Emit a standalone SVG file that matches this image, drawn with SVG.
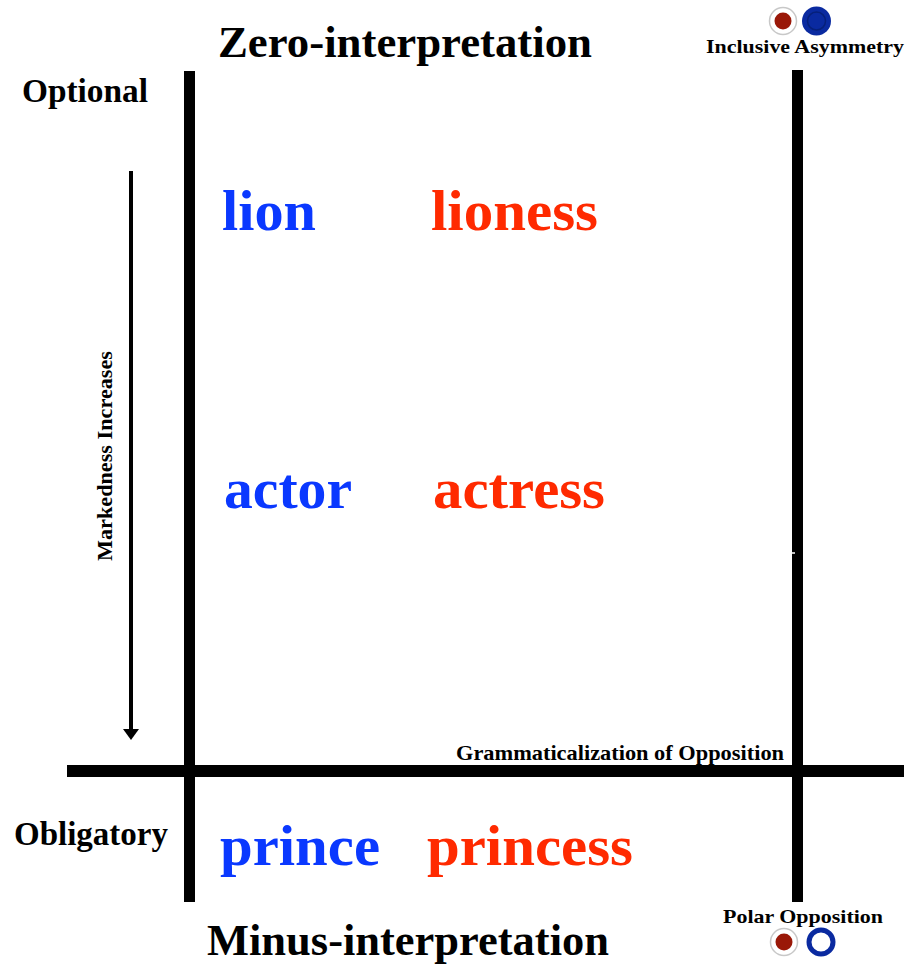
<svg xmlns="http://www.w3.org/2000/svg" width="909" height="966" viewBox="0 0 909 966">
<style>
text{font-family:"Liberation Serif","Times New Roman",serif;font-weight:bold}
.title{font-size:45px;fill:#000}
.side{font-size:33px;fill:#000}
.small{font-size:22px;fill:#000}
.big{font-size:58px}
.blue{fill:#0a38ff}
.red{fill:#ff2a00}
.axis{stroke:#000;fill:none}
</style>
<defs>
<marker id="ah" markerWidth="20" markerHeight="18" refX="0" refY="9" orient="auto" markerUnits="userSpaceOnUse">
<path d="M0,1 L11,9 L0,17 Z" fill="#000"/>
</marker>
</defs>
<rect width="909" height="966" fill="#fff"/>
<g id="connectors">
<line class="axis" x1="189.5" y1="71" x2="189.5" y2="902" stroke-width="11"/>
<line class="axis" x1="797.5" y1="70" x2="797.5" y2="902" stroke-width="11"/>
<line class="axis" x1="67" y1="771" x2="904" y2="771" stroke-width="12" stroke-linecap="butt"/>
<line x1="792" y1="553" x2="795" y2="553" stroke="#fff" stroke-width="1.5"/>
<line class="axis" x1="131" y1="171" x2="131" y2="729" stroke-width="4" marker-end="url(#ah)"/>
</g>
<g id="zero"><text class="title" x="218" y="57" textLength="374" lengthAdjust="spacingAndGlyphs">Zero-interpretation</text></g>
<g id="minus"><text class="title" x="207" y="955" textLength="402" lengthAdjust="spacingAndGlyphs">Minus-interpretation</text></g>
<g id="optional"><text class="side" x="22" y="102" textLength="126" lengthAdjust="spacingAndGlyphs">Optional</text></g>
<g id="obligatory"><text class="side" x="14" y="845" textLength="154" lengthAdjust="spacingAndGlyphs">Obligatory</text></g>
<g id="markedness"><text class="small" transform="translate(112,561) rotate(-90)" textLength="210" lengthAdjust="spacingAndGlyphs">Markedness Increases</text></g>
<g id="grammaticalization"><text class="small" x="456" y="760" textLength="328" lengthAdjust="spacingAndGlyphs">Grammaticalization of Opposition</text></g>
<g id="lion"><text class="big blue" x="222" y="230" textLength="94" lengthAdjust="spacingAndGlyphs">lion</text></g>
<g id="lioness"><text class="big red" x="431" y="230" textLength="167" lengthAdjust="spacingAndGlyphs">lioness</text></g>
<g id="actor"><text class="big blue" x="224" y="508" textLength="128" lengthAdjust="spacingAndGlyphs">actor</text></g>
<g id="actress"><text class="big red" x="433" y="508" textLength="172" lengthAdjust="spacingAndGlyphs">actress</text></g>
<g id="prince"><text class="big blue" x="220" y="865" textLength="160" lengthAdjust="spacingAndGlyphs">prince</text></g>
<g id="princess"><text class="big red" x="427" y="865" textLength="206" lengthAdjust="spacingAndGlyphs">princess</text></g>
<g id="inclusive">
<circle cx="783" cy="21" r="13.5" fill="#fff" stroke="#c8c8c8" stroke-width="1.5"/>
<circle cx="783" cy="21" r="8.5" fill="#9a1808"/>
<circle cx="816.5" cy="21" r="14.5" fill="#0a2aa0"/>
<circle cx="816.5" cy="21" r="9" fill="none" stroke="#06207a" stroke-width="1.5"/>
<text class="small" x="706" y="53" textLength="198" lengthAdjust="spacingAndGlyphs" style="font-size:19px">Inclusive Asymmetry</text>
</g>
<g id="polar">
<text class="small" x="723" y="923" textLength="160" lengthAdjust="spacingAndGlyphs" style="font-size:19px">Polar Opposition</text>
<circle cx="784" cy="942" r="13.5" fill="#fff" stroke="#c8c8c8" stroke-width="1.5"/>
<circle cx="784" cy="942" r="8.5" fill="#9a1808"/>
<circle cx="821" cy="942" r="12" fill="#fff" stroke="#0a2aa0" stroke-width="5"/>
</g>
</svg>
